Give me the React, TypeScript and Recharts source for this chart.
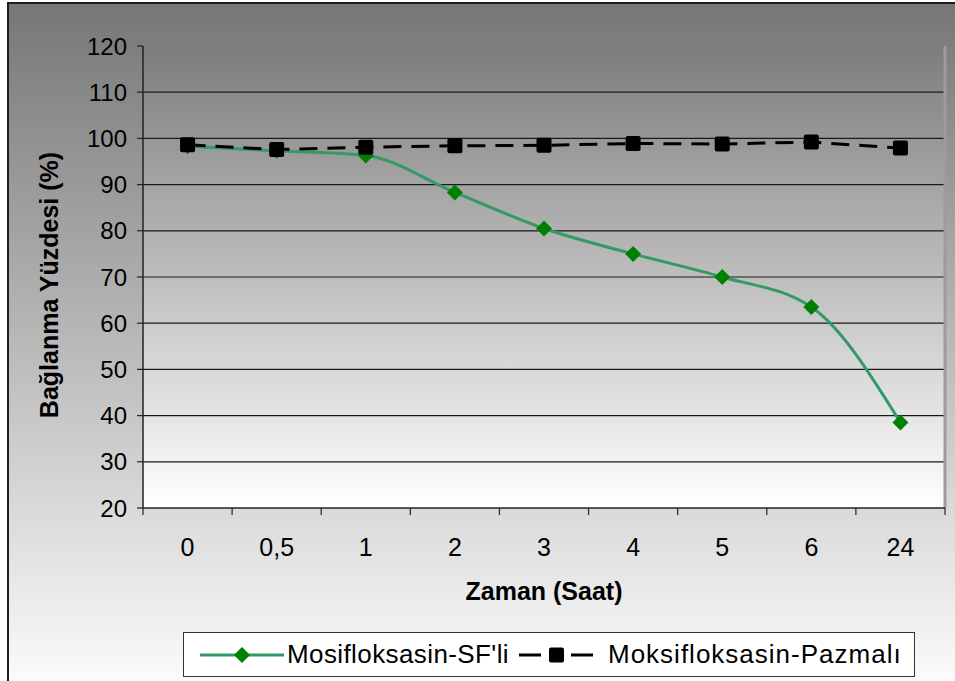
import React from 'react';
import {
  LineChart,
  Line,
  XAxis,
  YAxis,
  CartesianGrid,
  ReferenceLine,
} from 'recharts';

const timeLabels = ['0', '0,5', '1', '2', '3', '4', '5', '6', '24'];
const sfValues = [98.3, 97.3, 96.3, 88.3, 80.5, 75.0, 70.0, 63.5, 38.5];
const plasmaValues = [98.6, 97.6, 98.1, 98.4, 98.5, 98.9, 98.8, 99.2, 97.9];
const yTicks = [20, 30, 40, 50, 60, 70, 80, 90, 100, 110, 120];
const gridValues = [30, 40, 50, 60, 70, 80, 90, 100, 110];
// category boundaries (tick marks) and category centres (labels)
const xTicks = [0, 0.5, 1, 1.5, 2, 2.5, 3, 3.5, 4, 4.5, 5, 5.5, 6, 6.5, 7, 7.5, 8, 8.5, 9];

const sfName = "Mosifloksasin-SF'li";
const plasmaName = 'Moksifloksasin-Pazmalı';
const yTitle = 'Bağlanma Yüzdesi (%)';
const xTitle = 'Zaman (Saat)';

const data = timeLabels.map((label, i) => ({
  x: i + 0.5,
  label,
  sf: sfValues[i],
  plasma: plasmaValues[i],
}));

const FONT = '"Liberation Sans", Arial, sans-serif';
const GREEN = '#339966';
const DARK_GREEN = '#008000';
const TICK_MARGIN = 30;

const Diamond = (p: any) => {
  const { cx, cy, index } = p;
  if (cx == null || cy == null) return <g key={index} />;
  const r = 8;
  return (
    <polygon
      key={index}
      points={`${cx},${cy - r} ${cx + r},${cy} ${cx},${cy + r} ${cx - r},${cy}`}
      fill={DARK_GREEN}
    />
  );
};

const Square = (p: any) => {
  const { cx, cy, index } = p;
  if (cx == null || cy == null) return <g key={index} />;
  const s = 15;
  return <rect key={index} x={cx - s / 2} y={cy - s / 2} width={s} height={s} rx={2} fill='#000' />;
};

// whole values: small tick mark below the axis; half values: the category label
const TimeTick = (p: any) => {
  const { x, y, payload } = p;
  const v = payload.value as number;
  const axisY = y - TICK_MARGIN;
  if (Number.isInteger(v)) {
    return <line x1={x} x2={x} y1={axisY} y2={axisY + 7} stroke='#222' strokeWidth={1.2} />;
  }
  return (
    <text x={x} y={y} dy={18} textAnchor='middle' fill='#000' fontSize={25} fontFamily={FONT}>
      {timeLabels[Math.floor(v)]}
    </text>
  );
};

const YTitle = (p: any) => {
  const vb = p.viewBox || {};
  const cx = vb.x + 6;
  const cy = vb.y + vb.height / 2 + 8;
  return (
    <text
      x={cx}
      y={cy}
      transform={`rotate(-90, ${cx}, ${cy})`}
      textAnchor='middle'
      dominantBaseline='central'
      fill='#000'
      fontSize={25}
      fontWeight='bold'
      fontFamily={FONT}
    >
      {yTitle}
    </text>
  );
};

function LegendBox() {
  const text: React.CSSProperties = {
    position: 'absolute',
    top: 0,
    lineHeight: '43px',
    fontFamily: FONT,
    fontSize: 26,
    color: '#000',
    whiteSpace: 'nowrap',
  };
  return (
    <div
      style={{
        position: 'absolute',
        left: 176,
        top: 630,
        width: 732,
        height: 45,
        boxSizing: 'border-box',
        border: '1px solid #333',
        background: '#fff',
      }}
    >
      <svg width={84} height={20} style={{ position: 'absolute', left: 16, top: 12 }}>
        <line x1={0} y1={10} x2={84} y2={10} stroke={GREEN} strokeWidth={3} />
        <polygon points='42,2 50,10 42,18 34,10' fill={DARK_GREEN} />
      </svg>
      <span style={{ ...text, left: 103, letterSpacing: 0.4 }}>{sfName}</span>
      <svg width={74} height={20} style={{ position: 'absolute', left: 335, top: 12 }}>
        <line x1={0} y1={10} x2={22} y2={10} stroke='#000' strokeWidth={3} />
        <rect x={30} y={2.5} width={15} height={15} rx={2} fill='#000' />
        <line x1={52} y1={10} x2={74} y2={10} stroke='#000' strokeWidth={3} />
      </svg>
      <span style={{ ...text, left: 424, letterSpacing: 1 }}>{plasmaName}</span>
    </div>
  );
}

export default function App() {
  return (
    <div
      style={{
        position: 'absolute',
        left: 7,
        top: 2,
        width: 948,
        height: 679,
        background: 'linear-gradient(to bottom, #767676 0%, #fbfbfb 100%)',
        boxShadow: 'inset 2px 2px 0 #1e1e1e',
        overflow: 'hidden',
      }}
    >
      <LineChart
        width={948}
        height={679}
        data={data}
        margin={{ top: 44, right: 10, left: 36, bottom: 73 }}
      >
        <defs>
          <linearGradient id='plotBg' x1='0' y1='0' x2='0' y2='1'>
            <stop offset='0%' stopColor='#7d7d7d' />
            <stop offset='100%' stopColor='#ffffff' />
          </linearGradient>
        </defs>
        <CartesianGrid
          fill='url(#plotBg)'
          fillOpacity={1}
          vertical={false}
          horizontalValues={gridValues}
          stroke='#1a1a1a'
          strokeWidth={1.2}
        />
        <XAxis
          dataKey='x'
          type='number'
          domain={[0, 9]}
          ticks={xTicks}
          interval={0}
          tick={TimeTick}
          tickLine={false}
          tickSize={0}
          tickMargin={TICK_MARGIN}
          height={100}
          axisLine={{ stroke: '#222', strokeWidth: 1.5 }}
          label={{
            value: xTitle,
            position: 'insideBottom',
            offset: 8,
            style: { fill: '#000', fontSize: 25, fontWeight: 'bold', fontFamily: FONT },
          }}
        />
        <YAxis
          domain={[20, 120]}
          ticks={yTicks}
          interval={0}
          width={100}
          tickSize={6}
          tickMargin={10}
          axisLine={{ stroke: '#222', strokeWidth: 1.5 }}
          tickLine={{ stroke: '#222', strokeWidth: 1.2 }}
          tick={{ fill: '#000', fontSize: 24, fontFamily: FONT }}
          label={{ content: YTitle }}
        />
        <ReferenceLine x={9} stroke='#9c9c9c' strokeWidth={3} />
        <Line
          type='monotone'
          dataKey='sf'
          name={sfName}
          stroke={GREEN}
          strokeWidth={3}
          dot={Diamond}
          activeDot={false}
          isAnimationActive={false}
        />
        <Line
          type='linear'
          dataKey='plasma'
          name={plasmaName}
          stroke='#000'
          strokeWidth={3}
          strokeDasharray='18 10'
          dot={Square}
          activeDot={false}
          isAnimationActive={false}
        />
      </LineChart>
      <LegendBox />
    </div>
  );
}
